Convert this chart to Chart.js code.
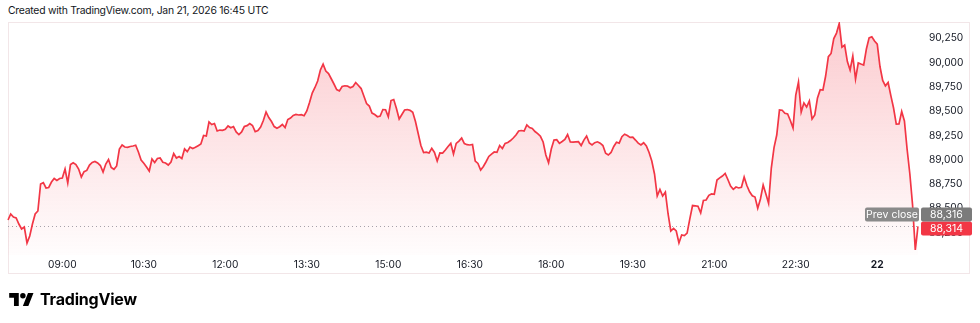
<!DOCTYPE html>
<html>
<head>
<meta charset="utf-8">
<script src="https://cdn.jsdelivr.net/npm/chart.js@4.4.1/dist/chart.umd.min.js"></script>
<style>
  html, body { margin: 0; padding: 0; background: #ffffff; }
  body { width: 980px; height: 323px; position: relative; overflow: hidden; font-family: Inter, "Noto Sans", sans-serif; }
  #titulo { position: absolute; left: 8px; top: 4px; font-size: 10.4px; letter-spacing: -0.25px; color: #131722; white-space: nowrap; }
  #painel { position: absolute; left: 8px; top: 22px; width: 962px; height: 252px; border: 1px solid #f2e6e8; box-sizing: border-box; }
  #grafico { position: absolute; left: 0; top: 0; }
  #marca { position: absolute; left: 9px; top: 289px; display: flex; align-items: center; gap: 6px; }
  #marca span { font-size: 16px; font-weight: 700; color: #000000; letter-spacing: -0.2px; }
</style>
</head>
<body>
<div id="titulo">Created with TradingView.com, Jan 21, 2026 16:45 UTC</div>
<div id="painel"></div>
<canvas id="grafico" width="980" height="323"></canvas>
<div id="marca">
  <svg width="25" height="13" viewBox="0 0 36 19"><path d="M14 19H7V7H0V0h14v19z M28 19h-8L27.5 0h8L28 19z" fill="#000"/><circle cx="20" cy="4" r="4" fill="#000"/></svg>
  <span>TradingView</span>
</div>
<script>
// Categorias: barras de 3 minutos, 08:00 -> 00:45
const horaInicio = 8 * 60;
const passoMin = 3;
const nPontos = 336;
const horarios = [];
for (let i = 0; i < nPontos; i++) {
  const m = (horaInicio + i * passoMin) % (24 * 60);
  horarios.push(String(Math.floor(m / 60)).padStart(2, "0") + ":" + String(m % 60).padStart(2, "0"));
}

// Preço
const precos = [
  88380, 88442, 88411, 88401, 88339, 88288, 88308, 88144, 88216, 88339,
  88442, 88473, 88751, 88764, 88710, 88715, 88771, 88807, 88787, 88807,
  88812, 88905, 88761, 88951, 88970, 88951, 88905, 88823, 88877, 88890,
  88946, 88972, 88982, 88967, 88941, 88874, 88956, 89003, 88920, 88902,
  88936, 89111, 89152, 89131, 89128, 89137, 89142, 89150, 89080, 88998,
  88964, 88926, 88884, 89008, 88972, 89013, 89018, 88974, 88967, 88946,
  88977, 89065, 89018, 89034, 89013, 89111, 89083, 89131, 89116, 89128,
  89145, 89162, 89250, 89245, 89389, 89363, 89373, 89296, 89306, 89303,
  89314, 89348, 89330, 89342, 89286, 89260, 89286, 89342, 89351, 89373,
  89353, 89289, 89301, 89337, 89404, 89492, 89435, 89394, 89342, 89324,
  89340, 89363, 89332, 89414, 89430, 89456, 89466, 89461, 89464, 89453,
  89502, 89589, 89687, 89744, 89811, 89924, 89985, 89913, 89888, 89834,
  89780, 89723, 89708, 89754, 89762, 89759, 89741, 89754, 89795, 89764,
  89733, 89656, 89579, 89553, 89481, 89466, 89443, 89450, 89517, 89515,
  89443, 89610, 89620, 89528, 89420, 89466, 89512, 89517, 89509, 89488,
  89394, 89270, 89147, 89075, 89078, 89070, 89118, 89075, 88987, 89070,
  89068, 89101, 89137, 89169, 89059, 89169, 89193, 89224, 89167, 89155,
  89152, 89157, 88987, 88962, 88895, 88931, 88980, 89034, 89059, 89080,
  89077, 89147, 89116, 89169, 89178, 89198, 89224, 89255, 89296, 89301,
  89296, 89358, 89332, 89322, 89291, 89270, 89242, 89183, 89049, 88970,
  89111, 89203, 89207, 89169, 89188, 89209, 89260, 89183, 89181, 89184,
  89186, 89147, 89203, 89245, 89173, 89152, 89176, 89185, 89171, 89147,
  89068, 89049, 89075, 89137, 89180, 89171, 89237, 89263, 89250, 89231,
  89233, 89203, 89171, 89152, 89175, 89142, 89075, 88987, 88854, 88627,
  88694, 88627, 88668, 88442, 88267, 88293, 88267, 88144, 88226, 88220,
  88246, 88391, 88529, 88526, 88522, 88454, 88581, 88586, 88634, 88648,
  88645, 88792, 88814, 88833, 88859, 88797, 88730, 88696, 88720, 88710,
  88717, 88823, 88735, 88670, 88629, 88617, 88501, 88596, 88740, 88648,
  88552, 88915, 89126, 89255, 89512, 89510, 89478, 89471, 89404, 89327,
  89666, 89800, 89492, 89584, 89543, 89605, 89420, 89461, 89636, 89721,
  89718, 89862, 90061, 90094, 90248, 90304, 90402, 90160, 90181, 90011,
  89924, 90068, 89831, 89996, 89985, 89975, 90140, 90255, 90266, 90222,
  90191, 89960, 89816, 89761, 89795, 89661, 89533, 89366, 89368, 89497,
  89399, 89106, 88854, 88535, 88072, 88314
];

const fechamentoAnterior = 88316;
const precoAtual = 88314;

// Rótulos dos eixos
const horariosEixoX = ["09:00", "10:30", "12:00", "13:30", "15:00", "16:30", "18:00", "19:30", "21:00", "22:30", "00:00"];
const rotulosEixoX = ["09:00", "10:30", "12:00", "13:30", "15:00", "16:30", "18:00", "19:30", "21:00", "22:30", "22"];
const ticksEixoY = [88250, 88500, 88750, 89000, 89250, 89500, 89750, 90000, 90250];

const vermelho = "#f23645";
const fonteBase = "Inter, 'Noto Sans', sans-serif";

function caixa(ctx, x, y, w, h, cor, texto, corTexto) {
  ctx.fillStyle = cor;
  ctx.beginPath();
  ctx.roundRect(x, y, w, h, 2);
  ctx.fill();
  ctx.fillStyle = corTexto;
  ctx.font = "10.5px " + fonteBase;
  ctx.textAlign = "center";
  ctx.textBaseline = "middle";
  ctx.fillText(texto, x + w / 2, y + h / 2 + 0.5);
}

// Linha pontilhada e etiquetas de preço
const pluginFechamento = {
  id: "fechamento",
  beforeDatasetsDraw(chart) {
    const { ctx, chartArea, scales } = chart;
    const y = Math.round(scales.y.getPixelForValue(fechamentoAnterior)) + 0.5;
    ctx.save();
    ctx.strokeStyle = "#a3a6af";
    ctx.lineWidth = 1;
    ctx.setLineDash([1, 3]);
    ctx.beginPath();
    ctx.moveTo(chartArea.left, y);
    ctx.lineTo(chartArea.right, y);
    ctx.stroke();
    ctx.restore();
  },
  afterDraw(chart) {
    const { ctx, scales } = chart;
    const yAtual = scales.y.getPixelForValue(precoAtual);
    ctx.save();
    caixa(ctx, 921, yAtual - 5, 51, 14, vermelho, precoAtual.toLocaleString("en-US"), "#ffffff");
    caixa(ctx, 921, yAtual - 19, 51, 14, "#7b7b7b", fechamentoAnterior.toLocaleString("en-US"), "#ffffff");
    caixa(ctx, 865, yAtual - 19, 54, 14, "#8a8a8a", "Prev close", "#ffffff");
    ctx.restore();
  },
};

function gradiente(c) {
  const area = c.chart.chartArea;
  if (!area) return "rgba(242, 54, 69, 0.1)";
  const g = c.chart.ctx.createLinearGradient(0, area.top, 0, area.bottom);
  g.addColorStop(0, "rgba(242, 54, 69, 0.26)");
  g.addColorStop(1, "rgba(242, 54, 69, 0.01)");
  return g;
}

const ctx = document.getElementById("grafico").getContext("2d");
new Chart(ctx, {
  type: "line",
  data: {
    labels: horarios,
    datasets: [
      {
        data: precos,
        borderColor: vermelho,
        borderWidth: 1.7,
        backgroundColor: gradiente,
        fill: "start",
        pointRadius: 0,
        tension: 0,
      },
    ],
  },
  options: {
    responsive: false,
    animation: false,
    layout: { padding: { left: 8, top: 22, right: 0, bottom: 48 } },
    plugins: { legend: { display: false }, tooltip: { enabled: false } },
    scales: {
      x: {
        type: "category",
        grid: { display: false, drawTicks: false },
        border: { display: false },
        afterBuildTicks: (s) => {
          s.ticks = s.ticks.filter((t) => horariosEixoX.includes(horarios[t.value]));
        },
        afterFit: (s) => {
          s.height = 20;
        },
        ticks: {
          autoSkip: false,
          maxRotation: 0,
          padding: 4,
          color: "#131722",
          font: (c) => ({ family: fonteBase, size: 10.2, weight: c.tick && c.tick.label === "22" ? "bold" : "normal" }),
          callback: (v) => rotulosEixoX[horariosEixoX.indexOf(horarios[v])],
        },
      },
      y: {
        position: "right",
        min: 88020,
        max: 90418,
        grid: { display: false, drawTicks: false },
        border: { display: false },
        afterBuildTicks: (s) => {
          s.ticks = ticksEixoY.map((v) => ({ value: v }));
        },
        afterFit: (s) => {
          s.width = 62;
        },
        ticks: {
          padding: 11,
          color: "#131722",
          font: { family: fonteBase, size: 10.2 },
          callback: (v) => v.toLocaleString("en-US"),
        },
      },
    },
  },
  plugins: [pluginFechamento],
});
</script>
</body>
</html>
